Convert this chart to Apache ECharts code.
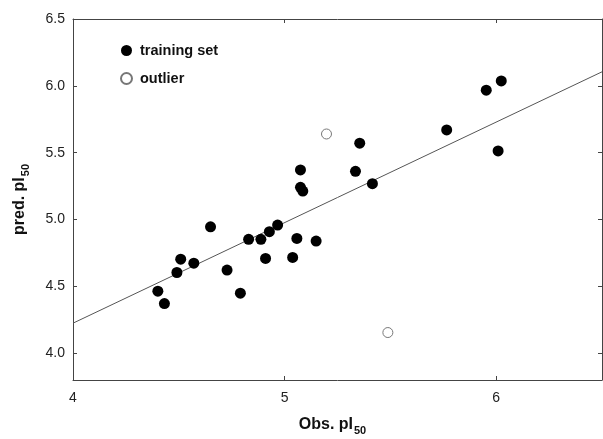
<!DOCTYPE html>
<html><head><meta charset="utf-8">
<script src="https://cdn.jsdelivr.net/npm/echarts@6/dist/echarts.min.js"></script>
<style>html,body{margin:0;padding:0;background:#fff}#c{width:603px;height:439px}</style>
</head><body><div id="c"></div>
<script>
var trainX = [4.650,4.509,4.571,4.491,4.401,4.432,4.728,4.791,4.830,4.888,4.928,4.967,4.910,5.058,5.038,5.149,5.355,5.075,5.335,5.075,5.086,5.415,5.766,6.024,5.953,6.009];
var trainY = [4.946,4.704,4.674,4.604,4.464,4.372,4.622,4.449,4.852,4.852,4.909,4.959,4.709,4.859,4.717,4.839,5.571,5.371,5.361,5.241,5.213,5.268,5.670,6.037,5.968,5.513];
var outX = [5.198,5.488];
var outY = [5.640,4.155];
var fitX = [4.0,6.5];
var fitY = [4.225,6.105];
var xTicks = [4,5,6];
var yTicks = [4.0,4.5,5.0,5.5,6.0,6.5];

function zip(a,b){return a.map(function(v,i){return [v,b[i]];});}
var chart = echarts.init(document.getElementById('c'));
var axisCol = '#444';
var font = 'Liberation Sans, Arial, sans-serif';
var base = {
  axisLine:{show:true,lineStyle:{color:axisCol,width:1}},
  axisTick:{show:true,inside:true,length:4,lineStyle:{color:axisCol}},
  splitLine:{show:false}
};
function xa(extra){return Object.assign({type:'value',min:4,max:6.5,interval:1},JSON.parse(JSON.stringify(base)),extra);}
function ya(extra){return Object.assign({type:'value',min:3.8,max:6.5,splitNumber:5},JSON.parse(JSON.stringify(base)),extra);}
var subStyle = {fontFamily:font,fontSize:11,fontWeight:'bold',color:'#111',verticalAlign:'bottom',padding:[12,0,0,1]};
chart.setOption({
  animation:false,
  grid:{left:73,top:19,right:1,bottom:59,outerBoundsMode:'none',containLabel:false},
  legend:{
    orient:'vertical',left:115,top:38,itemGap:13,itemWidth:11,itemHeight:11,
    textStyle:{fontFamily:font,fontSize:14.5,fontWeight:'bold',color:'#111',padding:[0,0,0,3]},
    data:[{name:'training set',icon:'circle'},{name:'outlier',icon:'circle'}]
  },
  xAxis:[
    xa({position:'bottom',name:'Obs. pI{s|50}',nameLocation:'middle',nameGap:33,
      nameTextStyle:{fontFamily:font,fontSize:16,fontWeight:'bold',color:'#111',padding:[0,0,0,-10],rich:{s:subStyle}},
      axisLabel:{margin:11,fontFamily:font,fontSize:14,color:'#222',
        formatter:function(v){return xTicks.indexOf(v)>=0?String(v):'';}}}),
    xa({position:'top',axisLabel:{show:false}})
  ],
  yAxis:[
    ya({position:'left',name:'pred. pI{s|50}',nameLocation:'middle',nameGap:42,nameRotate:90,
      nameTextStyle:{fontFamily:font,fontSize:16,fontWeight:'bold',color:'#111',rich:{s:subStyle}},
      axisLabel:{margin:8,fontFamily:font,fontSize:14,color:'#222',
        formatter:function(v){for(var i=0;i<yTicks.length;i++){if(Math.abs(yTicks[i]-v)<1e-6)return yTicks[i].toFixed(1);}return '';}}}),
    ya({position:'right',axisLabel:{show:false}})
  ],
  series:[
    {type:'line',name:'fit',data:zip(fitX,fitY),symbol:'none',lineStyle:{color:'#555',width:1},silent:true,z:1},
    {type:'scatter',name:'training set',data:zip(trainX,trainY),symbol:'circle',symbolSize:11,itemStyle:{color:'#000',opacity:1},z:3},
    {type:'scatter',name:'outlier',data:zip(outX,outY),symbol:'circle',symbolSize:10,itemStyle:{color:'#fff',borderColor:'#777',borderWidth:1,opacity:1},z:3}
  ]
});
</script></body></html>
